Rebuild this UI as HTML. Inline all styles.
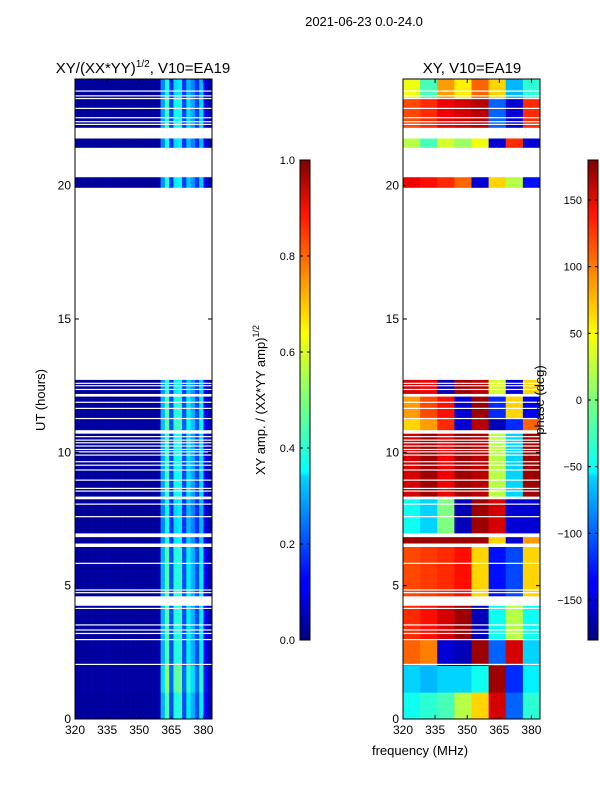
<!DOCTYPE html>
<html><head><meta charset="utf-8"><style>
body{margin:0;background:#fff;}
svg{display:block;font-family:"Liberation Sans","DejaVu Sans",sans-serif;}
</style></head><body>
<svg id="chart" width="600" height="800" viewBox="0 0 600 800">
<defs>
<linearGradient id="jet" x1="0" y1="1" x2="0" y2="0">
<stop offset="0" stop-color="#00007f"/><stop offset="0.11" stop-color="#0000ff"/><stop offset="0.125" stop-color="#0000ff"/>
<stop offset="0.34" stop-color="#00d4ff"/><stop offset="0.35" stop-color="#0ff"/><stop offset="0.5" stop-color="#7dff7a"/>
<stop offset="0.64" stop-color="#ff0"/><stop offset="0.66" stop-color="#ffea00"/><stop offset="0.89" stop-color="#ff1300"/>
<stop offset="1" stop-color="#7f0000"/>
</linearGradient>
</defs>
<text x="364" y="26" font-size="13" text-anchor="middle">2021-06-23 0.0-24.0</text>
<text x="143" y="73" font-size="15" text-anchor="middle">XY/(XX*YY)<tspan font-size="10" dy="-6">1/2</tspan><tspan dy="6">, V10=EA19</tspan></text>
<text x="472" y="73" font-size="15" text-anchor="middle">XY, V10=EA19</text>
<g id="ampPanel"></g>
<g id="phPanel"></g>
<g id="axes"></g>
<text transform="translate(45,400) rotate(-90)" font-size="13" text-anchor="middle">UT (hours)</text>
<text x="420" y="755" font-size="13" text-anchor="middle">frequency (MHz)</text>
<rect x="300" y="160" width="10" height="480" fill="url(#jet)" stroke="#000" stroke-width="1"/>
<rect x="588" y="160" width="10" height="480" fill="url(#jet)" stroke="#000" stroke-width="1"/>
<text transform="translate(265,400) rotate(-90)" font-size="13" text-anchor="middle">XY amp. / (XX*YY amp)<tspan font-size="9" dy="-6">1/2</tspan></text>
<text transform="translate(544,400) rotate(-90)" font-size="13" text-anchor="middle">phase (deg)</text>
<g id="cbticks"></g>
</svg>
<script>
// ---- data ----
const freqMin = 320, freqMax = 384;
const utMin = 0, utMax = 24;
const xTicks = [320, 335, 350, 365, 380];
const yTicks = [0, 5, 10, 15, 20];
const ampTicks = [0.0, 0.2, 0.4, 0.6, 0.8, 1.0];
const phaseTicks = [-150, -100, -50, 0, 50, 100, 150];
// data-covered UT ranges
const dataRanges = [[0, 12.72], [19.92, 20.32], [21.42, 21.77], [22.17, 24]];
// thin blank rows [start,end] UT
const blankRows = [[12.57,12.61],[12.48,12.52],[12.34,12.38],[12.09,12.19],[11.86,11.9],[11.63,11.67],[11.25,11.29],
 [10.7,10.83],[10.57,10.61],[10.44,10.48],[10.34,10.38],[10.22,10.26],[10.09,10.13],[10.0,10.04],[9.88,9.92],
 [9.63,9.67],[9.5,9.54],[9.32,9.36],[8.94,8.98],[8.63,8.67],[8.53,8.57],[8.24,8.34],[8.04,8.08],[7.57,7.61],
 [6.82,6.96],[6.45,6.58],[5.82,5.86],[4.82,4.86],[4.72,4.76],[4.25,4.6],[4.13,4.17],[3.51,3.55],[3.32,3.36],
 [3.19,3.23],[2.96,3.0],[2.03,2.07],
 [23.53,23.57],[23.35,23.39],[23.25,23.29],[22.88,22.92],[22.53,22.57],[22.38,22.42],[22.28,22.32]];
// amplitude spectral profile, 32 bins of 2 MHz
const ampProfile = [0.03,0.03,0.03,0.03,0.03,0.03,0.03,0.04,0.03,0.03,0.03,0.03,0.03,0.03,0.03,0.03,0.03,0.03,0.03,0.04,
 0.3,0.45,0.2,0.4,0.42,0.2,0.36,0.3,0.2,0.36,0.12,0.05];
// segments: [utStart, utEnd]
const segStart = [0, 1.0, 2.0, 3.0, 4.6, 6.5, 6.9, 8.3, 10.8, 11.3, 12.2, 19.92, 21.42, 22.17, 23.3];
const segEnd   = [1.0, 2.0, 3.0, 4.25, 6.5, 6.9, 8.3, 10.8, 11.3, 12.2, 12.72, 20.32, 21.77, 23.3, 24];
const ampLevel = [1.0, 1.15, 1.0, 1.0, 1.0, 0.9, 0.85, 0.95, 1.05, 1.0, 0.9, 0.9, 0.85, 0.95, 0.85];
// phase (deg) per segment over 8 bins of 8 MHz
const phaseRows = [
 [-40,-30,-20,20,60,150,-100,-30],
 [-60,-70,-60,-60,-40,170,-120,-50],
 [100,90,-150,-160,170,-100,150,-60],
 [120,130,150,170,-160,-40,20,-40],
 [110,115,120,130,60,-130,-110,60],
 [170,170,170,170,170,60,-150,80],
 [-40,-60,0,-160,170,150,-150,-150],
 [150,170,140,170,160,20,-60,170],
 [60,80,120,-150,160,-160,-120,100],
 [80,110,130,-150,170,-120,60,-140],
 [150,140,-160,170,160,30,-150,60],
 [140,130,120,100,-150,60,20,-130],
 [20,-20,30,10,40,-150,120,-150],
 [110,120,140,150,160,-100,-150,120],
 [40,-20,80,50,100,60,-70,-30]
];
// ---- scales ----
const P1 = {x0:75, x1:212}, P2 = {x0:403, x1:540}, Y0 = 719, Y1 = 79;
const xs = (p, f) => p.x0 + (f - freqMin) / (freqMax - freqMin) * (p.x1 - p.x0);
const ys = u => Y0 - (u - utMin) / (utMax - utMin) * (Y0 - Y1);
function jet(v){v=Math.max(0,Math.min(1,v));
 const r=Math.max(0,Math.min(1,1.5-Math.abs(4*v-3))),g=Math.max(0,Math.min(1,1.5-Math.abs(4*v-2))),b=Math.max(0,Math.min(1,1.5-Math.abs(4*v-1)));
 return `rgb(${Math.round(r*255)},${Math.round(g*255)},${Math.round(b*255)})`;}
const NS='http://www.w3.org/2000/svg';
function mk(tag, attrs, parent){const e=document.createElementNS(NS,tag);for(const k in attrs)e.setAttribute(k,attrs[k]);parent.appendChild(e);return e;}
const ampG=document.getElementById('ampPanel'), phG=document.getElementById('phPanel');
for(let s=0;s<segStart.length;s++){
 const yT=ys(segEnd[s]), yB=ys(segStart[s]);
 for(let i=0;i<ampProfile.length;i++){
  const f0=freqMin+i*2;
  const c=mk('rect',{x:xs(P1,f0),y:yT,width:xs(P1,f0+2)-xs(P1,f0)+0.3,height:yB-yT+0.3,fill:jet(ampProfile[i]*ampLevel[s])},ampG);
  
  
 }
 const row=phaseRows[s];
 for(let i=0;i<row.length;i++){
  const f0=freqMin+i*8;
  const c=mk('rect',{x:xs(P2,f0),y:yT,width:xs(P2,f0+8)-xs(P2,f0)+0.3,height:yB-yT+0.3,fill:jet((row[i]+180)/360)},phG);
  
  
 }
}
const ax=document.getElementById('axes');
[P1,P2].forEach(p=>{
 blankRows.forEach(b=>{const r=mk('rect',{x:p.x0,y:ys(b[1]),width:p.x1-p.x0,height:Math.max(1.2,ys(b[0])-ys(b[1])),fill:'#fff'},ax);
  
  });
 let prev=utMax;
 const dr=[...dataRanges].sort((a,b)=>b[1]-a[1]);
 dr.forEach(d=>{if(prev>d[1]){const r=mk('rect',{x:p.x0,y:ys(prev),width:p.x1-p.x0,height:ys(d[1])-ys(prev),fill:'#fff'},ax);
  
  } prev=d[0];});
 const fr=mk('rect',{x:p.x0,y:Y1,width:p.x1-p.x0,height:Y0-Y1,fill:'none',stroke:'#000','stroke-width':1},ax);
 
 
 xTicks.forEach(t=>{const x=xs(p,t);
  mk('line',{x1:x,x2:x,y1:Y0,y2:Y0-4,stroke:'#000'},ax);mk('line',{x1:x,x2:x,y1:Y1,y2:Y1+4,stroke:'#000'},ax);
  const tx=mk('text',{x:x,y:Y0+15,'font-size':12,'text-anchor':'middle'},ax);tx.textContent=t;
  
  });
 yTicks.forEach(t=>{const y=ys(t);
  mk('line',{x1:p.x0,x2:p.x0+4,y1:y,y2:y,stroke:'#000'},ax);mk('line',{x1:p.x1,x2:p.x1-4,y1:y,y2:y,stroke:'#000'},ax);
  const tx=mk('text',{x:p.x0-4,y:y+4,'font-size':12,'text-anchor':'end'},ax);tx.textContent=t;
  
  });
});
const cb=document.getElementById('cbticks');
ampTicks.forEach(t=>{const y=640-t*480;
 mk('line',{x1:300,x2:303,y1:y,y2:y,stroke:'#000'},cb);mk('line',{x1:310,x2:307,y1:y,y2:y,stroke:'#000'},cb);
 const tx=mk('text',{x:295,y:y+4,'font-size':11,'text-anchor':'end'},cb);tx.textContent=t.toFixed(1);
 
 });
phaseTicks.forEach(t=>{const y=640-(t+180)/360*480;
 mk('line',{x1:588,x2:591,y1:y,y2:y,stroke:'#000'},cb);mk('line',{x1:598,x2:595,y1:y,y2:y,stroke:'#000'},cb);
 const tx=mk('text',{x:582,y:y+4,'font-size':11,'text-anchor':'end'},cb);tx.textContent=(t<0?'\u2212'+(-t):t);
 
 });
</script>
</body></html>
